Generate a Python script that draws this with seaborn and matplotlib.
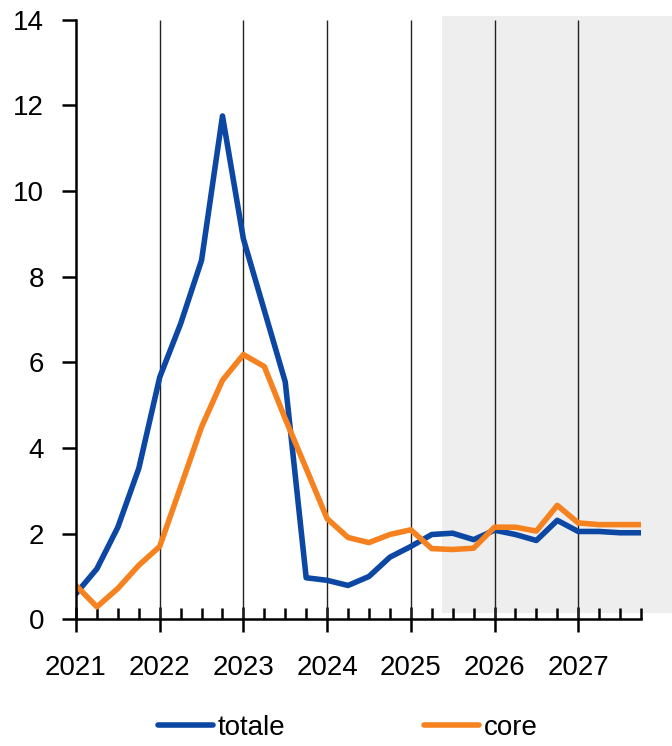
import numpy as np
import pandas as pd
import matplotlib
matplotlib.use("Agg")
import matplotlib.pyplot as plt
from matplotlib.patches import Rectangle
import seaborn as sns

# Quarterly inflation, 2021Q1 - 2027Q4
years = ["2021", "2022", "2023", "2024", "2025", "2026", "2027"]
quarters_per_year = 4

totale = [0.60, 1.18, 2.15, 3.52, 5.65, 6.90, 8.38, 11.75,
          8.88, 7.21, 5.54, 0.97, 0.91, 0.79, 1.00, 1.45,
          1.70, 1.98, 2.01, 1.86, 2.08, 1.98, 1.84, 2.31,
          2.05, 2.05, 2.02, 2.02]
core = [0.79, 0.29, 0.72, 1.26, 1.70, 3.09, 4.49, 5.58,
        6.18, 5.90, 4.68, 3.52, 2.35, 1.91, 1.79, 1.98,
        2.09, 1.65, 1.63, 1.66, 2.15, 2.15, 2.06, 2.66,
        2.25, 2.21, 2.21, 2.21]
series_names = ["totale", "core"]
series_colors = ["#0B47A3", "#F5821F"]

# projections start after 2025Q2 (index 17)
forecast_start = 17.5

n = len(totale)
q = np.arange(n)
df = pd.DataFrame({
    "q": np.concatenate([q, q]),
    "value": totale + core,
    "serie": [series_names[0]] * n + [series_names[1]] * n,
})

sns.set_theme(style="white")
plt.rcParams["font.family"] = ["Liberation Sans", "DejaVu Sans"]
plt.rcParams["text.color"] = "black"
plt.rcParams["xtick.color"] = "black"
plt.rcParams["ytick.color"] = "black"

fig = plt.figure(figsize=(6.72, 7.46), dpi=100)
ax = fig.add_axes([76 / 672, 1 - 619.3 / 746, (641 - 76) / 672, (619.3 - 19.6) / 746])

# shaded projection area, running past the right edge of the axes
ymin, ymax = 0, 14
ax.add_patch(Rectangle((forecast_start, 0.15), n + 0.5 - forecast_start, ymax + 0.08 - 0.15,
                       facecolor="#EEEEEE", edgecolor="none", clip_on=False, zorder=0))

# vertical separators at each year
year_pos = np.arange(0, n, quarters_per_year)
ax.vlines(year_pos[1:], ymin, ymax, colors="#222222", linewidth=1.0, zorder=1)

sns.lineplot(data=df, x="q", y="value", hue="serie", palette=series_colors,
             linewidth=4.0, ax=ax, legend=False, zorder=3)

ax.set_xlim(0, n - 1)
ax.set_ylim(ymin, ymax)
ax.set_xlabel("")
ax.set_ylabel("")

ax.set_xticks(year_pos)
ax.set_xticklabels(years)
ax.set_xticks(q, minor=True)
ax.set_yticks(np.arange(0, 15, 2))

ax.tick_params(axis="x", which="major", direction="inout", length=18, width=1.8,
               color="black", labelcolor="black", labelsize=20, pad=17, bottom=True)
ax.tick_params(axis="x", which="minor", direction="in", length=8, width=1.8,
               color="black", bottom=True)
ax.tick_params(axis="y", which="major", direction="out", length=10, width=1.8,
               color="black", labelcolor="black", labelsize=20, pad=13, left=True)

for side in ["top", "right"]:
    ax.spines[side].set_visible(False)
for side in ["left", "bottom"]:
    ax.spines[side].set_color("black")
    ax.spines[side].set_linewidth(1.8)
    ax.spines[side].set_zorder(4)

handles = [plt.Line2D([], [], color=c, linewidth=4.0, solid_capstyle="round")
           for c in series_colors]
fig.legend(handles, series_names, loc="center", bbox_to_anchor=(0.517, 0.024),
           ncol=2, frameon=False, fontsize=20, handlelength=2.0,
           handletextpad=0.15, columnspacing=5.0, labelcolor="black",
           borderpad=0.1)

fig.savefig("out.png", dpi=100, facecolor="white")
